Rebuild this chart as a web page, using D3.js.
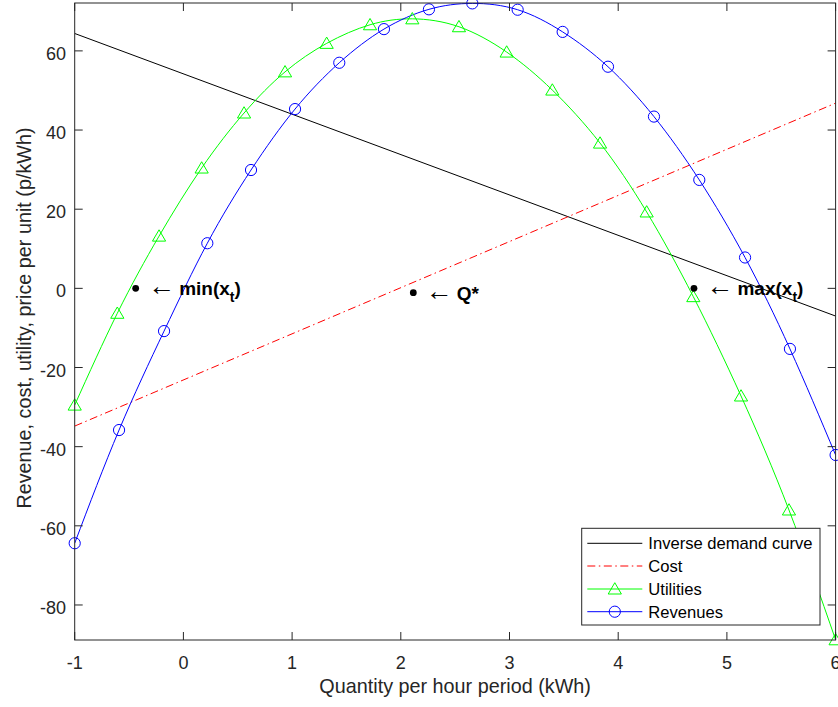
<!DOCTYPE html>
<html>
<head>
<meta charset="utf-8">
<script src="https://cdn.jsdelivr.net/npm/d3@7"></script>
<style>
  html, body { margin: 0; padding: 0; background: #fff; }
  svg { display: block; }
  text { font-family: "Liberation Sans", Arial, Helvetica, sans-serif; }
</style>
</head>
<body>
<svg id="chart" width="838" height="707"></svg>
<script>
// ---------------- data ----------------
const xTicks = [-1, 0, 1, 2, 3, 4, 5, 6];
const yTicks = [-80, -60, -40, -20, 0, 20, 40, 60];
const xDomain = [-1, 6];
const yDomain = [-88.85, 72.1];

// Inverse demand curve (straight line, end points)
const demandX = [-1, 6];
const demandY = [64.4, -7.0];

// Cost (straight line, end points)
const costX = [-1, 6];
const costY = [-34.8, 46.8];

// Utilities (marker points)
const utilX = [-1.0, -0.608, -0.224, 0.168, 0.558, 0.935, 1.318, 1.717, 2.106, 2.535, 2.974, 3.394, 3.833, 4.262, 4.691, 5.130, 5.571, 6.0];
const utilY = [-29.5, -6.3, 13.2, 30.4, 44.3, 54.7, 61.9, 66.6, 68.1, 66.1, 59.7, 50.1, 36.7, 19.3, -2.1, -27.2, -56.0, -88.8];

// Revenues (marker points)
const revX = [-1.0, -0.592, -0.178, 0.220, 0.622, 1.027, 1.434, 1.845, 2.259, 2.658, 3.075, 3.489, 3.906, 4.329, 4.746, 5.167, 5.580, 6.0];
const revY = [-64.4, -35.8, -10.8, 11.4, 29.9, 45.3, 57.0, 65.5, 70.5, 72.0, 70.4, 64.8, 56.0, 43.4, 27.4, 7.8, -15.3, -42.1];

// Annotations
const annX = [-0.439, 2.115, 4.697];
const annY = [0, -1.1, 0];
const annMain = ["min(x", "Q*", "max(x"];
const annSub = ["t", "", "t"];
const annTail = [")", "", ")"];

const legendLabels = ["Inverse demand curve", "Cost", "Utilities", "Revenues"];

// ---------------- layout ----------------
const L = 74.7, R = 835.6, T = 3, B = 640;
const axisColor = "#262626";

const svg = d3.select("#chart");
const x = d3.scaleLinear().domain(xDomain).range([L, R]);
const y = d3.scaleLinear().domain(yDomain).range([B, T]);

svg.append("defs").append("clipPath").attr("id", "clip")
  .append("rect").attr("x", L).attr("y", T).attr("width", R - L).attr("height", B - T);

const plot = svg.append("g").attr("clip-path", "url(#clip)");

const straight = d3.line().x(d => x(d[0])).y(d => y(d[1]));
const smooth = d3.line().x(d => x(d[0])).y(d => y(d[1])).curve(d3.curveNatural);

const zip = (a, b) => a.map((v, i) => [v, b[i]]);

// Demand line
plot.append("path").datum(zip(demandX, demandY))
  .attr("d", straight).attr("fill", "none").attr("stroke", "#000").attr("stroke-width", 1);

// Cost line
plot.append("path").datum(zip(costX, costY))
  .attr("d", straight).attr("fill", "none").attr("stroke", "#ff0000").attr("stroke-width", 1)
  .attr("stroke-dasharray", "8,3.5,1.5,3.5");

// Utilities
plot.append("path").datum(zip(utilX, utilY))
  .attr("d", smooth).attr("fill", "none").attr("stroke", "#00ff00").attr("stroke-width", 1);

// Revenues
plot.append("path").datum(zip(revX, revY))
  .attr("d", smooth).attr("fill", "none").attr("stroke", "#0000ff").attr("stroke-width", 1);

const triPath = "M0,-6.3L6.6,5L-6.6,5Z";

// markers (not clipped, like MATLAB)
const mk = svg.append("g");
mk.selectAll("path.tri").data(zip(utilX, utilY)).enter().append("path")
  .attr("class", "tri")
  .attr("transform", d => `translate(${x(d[0])},${y(d[1])})`)
  .attr("d", triPath).attr("fill", "none").attr("stroke", "#00ff00").attr("stroke-width", 1);

mk.selectAll("circle.rev").data(zip(revX, revY)).enter().append("circle")
  .attr("class", "rev")
  .attr("cx", d => x(d[0])).attr("cy", d => y(d[1])).attr("r", 5.6)
  .attr("fill", "none").attr("stroke", "#0000ff").attr("stroke-width", 1);

// ---------------- axes ----------------
const axG = svg.append("g");
axG.append("rect").attr("x", L).attr("y", T).attr("width", R - L).attr("height", B - T)
  .attr("fill", "none").attr("stroke", axisColor).attr("stroke-width", 1);

const tl = 8;
xTicks.forEach(t => {
  const px = x(t);
  axG.append("line").attr("x1", px).attr("x2", px).attr("y1", B).attr("y2", B - tl).attr("stroke", axisColor);
  axG.append("line").attr("x1", px).attr("x2", px).attr("y1", T).attr("y2", T + tl).attr("stroke", axisColor);
  axG.append("text").attr("x", px).attr("y", 669).attr("text-anchor", "middle")
    .attr("font-size", 18).attr("fill", axisColor).text(t);
});
yTicks.forEach(t => {
  const py = y(t);
  axG.append("line").attr("x1", L).attr("x2", L + tl).attr("y1", py).attr("y2", py).attr("stroke", axisColor);
  axG.append("line").attr("x1", R).attr("x2", R - tl).attr("y1", py).attr("y2", py).attr("stroke", axisColor);
  axG.append("text").attr("x", 66).attr("y", py + 9).attr("text-anchor", "end")
    .attr("font-size", 18).attr("fill", axisColor).text(t);
});

// axis labels
svg.append("text").attr("x", (L + R) / 2).attr("y", 693).attr("text-anchor", "middle")
  .attr("font-size", 19.8).attr("fill", axisColor).text("Quantity per hour period (kWh)");
svg.append("text").attr("transform", `translate(31,318) rotate(-90)`)
  .attr("text-anchor", "middle").attr("font-size", 19.8).attr("fill", axisColor)
  .text("Revenue, cost, utility, price per unit (p/kWh)");

// ---------------- annotations ----------------
const ann = svg.append("g");
annX.forEach((v, i) => {
  const px = x(v), py = y(annY[i]);
  ann.append("circle").attr("cx", px).attr("cy", py).attr("r", 3.4).attr("fill", "#000");
  ann.append("text").attr("x", px + 12.3).attr("y", py + 7)
    .attr("font-family", "'DejaVu Sans', sans-serif").attr("font-size", 27).attr("fill", "#000")
    .text("\u2190");
  const t = ann.append("text").attr("x", px + 43.5).attr("y", py + 6.8)
    .attr("font-size", 19).attr("font-weight", "bold").attr("fill", "#000");
  t.append("tspan").text(annMain[i]);
  if (annSub[i]) {
    t.append("tspan").attr("font-size", 14).attr("dy", 7).text(annSub[i]);
    t.append("tspan").attr("dy", -7).text(annTail[i]);
  }
});

// ---------------- legend ----------------
const lg = svg.append("g");
lg.append("rect").attr("x", 581.7).attr("y", 528.3).attr("width", 238.3).attr("height", 96.7)
  .attr("fill", "#fff").attr("stroke", axisColor).attr("stroke-width", 1);
const rowY = [543.3, 566, 589, 611.7];
const lStyles = [
  { c: "#000", dash: null, m: null },
  { c: "#ff0000", dash: "8,3.5,1.5,3.5", m: null },
  { c: "#00ff00", dash: null, m: "tri" },
  { c: "#0000ff", dash: null, m: "circ" }
];
legendLabels.forEach((lab, i) => {
  const s = lStyles[i], ry = rowY[i];
  const ln = lg.append("line").attr("x1", 587.3).attr("x2", 642.3).attr("y1", ry).attr("y2", ry)
    .attr("stroke", s.c).attr("stroke-width", 1);
  if (s.dash) ln.attr("stroke-dasharray", s.dash);
  if (s.m === "tri") lg.append("path").attr("transform", `translate(614.8,${ry})`).attr("d", triPath)
    .attr("fill", "none").attr("stroke", s.c);
  if (s.m === "circ") lg.append("circle").attr("cx", 614.8).attr("cy", ry).attr("r", 5.6)
    .attr("fill", "none").attr("stroke", s.c);
  lg.append("text").attr("x", 648.3).attr("y", ry + 5.9).attr("font-size", 16.6).attr("fill", "#000").text(lab);
});
</script>
</body>
</html>
